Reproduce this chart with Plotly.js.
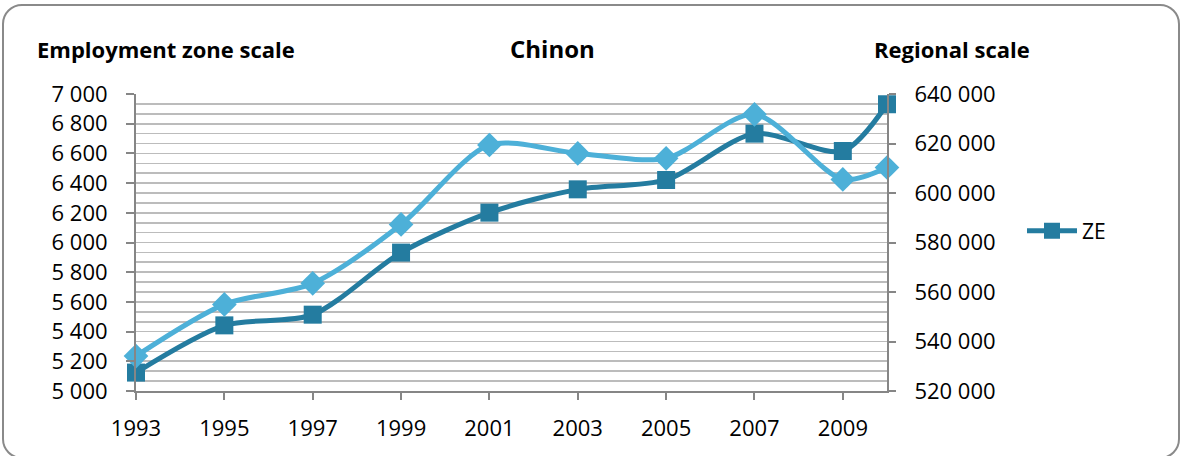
<!DOCTYPE html>
<html><head><meta charset="utf-8">
<script src="https://cdn.plot.ly/plotly-3.0.1.min.js"></script>
<style>
html,body{margin:0;padding:0;background:#fff;overflow:hidden;}
#wrap{position:relative;width:1182px;height:456px;overflow:hidden;}
#chart{position:absolute;left:0;top:0;width:1182px;height:456px;}
#frame{position:absolute;left:2px;top:4px;width:1174px;height:451px;border:2px solid #8a8a8a;border-radius:20px;pointer-events:none;}
</style></head>
<body><div id="wrap"><div id="chart"></div><div id="frame"></div></div>
<script>
const years = [1993, 1995, 1997, 1999, 2001, 2003, 2005, 2007, 2009, 2010];
const zeValues = [5124, 5442, 5514, 5932, 6201, 6358, 6421, 6733, 6616, 6931];
const regionValues = [534100, 555000, 563500, 587300, 619400, 616000, 614000, 631800, 605500, 610300];
const leftTickVals = [5000, 5200, 5400, 5600, 5800, 6000, 6200, 6400, 6600, 6800, 7000];
const leftTickText = ["5 000","5 200","5 400","5 600","5 800","6 000","6 200","6 400","6 600","6 800","7 000"];
const rightTickVals = [520000, 540000, 560000, 580000, 600000, 620000, 640000];
const rightTickText = ["520 000","540 000","560 000","580 000","600 000","620 000","640 000"];

const dark = "#247ca0";
const light = "#4db0d8";
const font = "Open Sans, sans-serif";

const traces = [
  {x: years, y: regionValues, yaxis: "y2", name: "Region", showlegend: false, cliponaxis: false,
   mode: "lines+markers", line: {shape: "spline", smoothing: 0.8, color: light, width: 5},
   marker: {symbol: "diamond", size: 19, color: light}},
  {x: years, y: zeValues, yaxis: "y", name: "ZE", cliponaxis: false,
   mode: "lines+markers", line: {shape: "spline", smoothing: 0.8, color: dark, width: 5},
   marker: {symbol: "square", size: 18, color: dark}}
];

const W = 1182 - 136 - 295, H = 297;
const layout = {
  width: 1182, height: 456,
  margin: {l: 136, r: 295, t: 94, b: 65},
  paper_bgcolor: "#fff", plot_bgcolor: "#fff",
  font: {family: font, size: 22, color: "#000"},
  showlegend: true,
  legend: {x: (1022 - 136) / W, y: 1 - (231 - 94) / H, xanchor: "left", yanchor: "middle", itemwidth: 50,
           font: {family: font, size: 21}, bgcolor: "rgba(0,0,0,0)"},
  xaxis: {range: [1993, 2010], tick0: 1993, dtick: 2, showgrid: false, zeroline: false,
          showline: true, linecolor: "#868686", linewidth: 2, ticks: "outside", ticklen: 7,
          tickcolor: "#868686", tickwidth: 2, ticklabelstandoff: 10, tickfont: {family: font, size: 22}},
  yaxis: {range: [5000, 7000], tickvals: leftTickVals, ticktext: leftTickText, showgrid: false,
          zeroline: false, showline: true, linecolor: "#868686", linewidth: 2, ticks: "outside",
          ticklen: 8, tickcolor: "#868686", tickwidth: 2, ticklabelstandoff: 14, tickfont: {family: font, size: 22}},
  yaxis2: {range: [520000, 640000], overlaying: "y", side: "right", tickvals: rightTickVals, ticktext: rightTickText,
           showgrid: true, gridcolor: "#bcbcbc", gridwidth: 1.6, zeroline: false, showline: true,
           linecolor: "#868686", linewidth: 2, ticks: "outside", ticklen: 7, tickcolor: "#868686", tickwidth: 2,
           ticklabelstandoff: 14, tickfont: {family: font, size: 22},
           minor: {dtick: 4000, tick0: 520000, showgrid: true, gridcolor: "#bcbcbc", gridwidth: 1.6}},
  annotations: [
    {text: "<b>Employment zone scale</b>", xref: "paper", yref: "paper", x: (166 - 136) / W, y: 1 + (94 - 48.5) / H, xanchor: "center", yanchor: "middle", showarrow: false, font: {family: font, size: 22}},
    {text: "<b>Chinon</b>", xref: "paper", yref: "paper", x: (552 - 136) / W, y: 1 + (94 - 48) / H, xanchor: "center", yanchor: "middle", showarrow: false, font: {family: font, size: 24}},
    {text: "<b>Regional scale</b>", xref: "paper", yref: "paper", x: (952 - 136) / W, y: 1 + (94 - 48.5) / H, xanchor: "center", yanchor: "middle", showarrow: false, font: {family: font, size: 22}}
  ]
};
Plotly.newPlot("chart", traces, layout, {displayModeBar: false, staticPlot: true});
</script></body></html>
